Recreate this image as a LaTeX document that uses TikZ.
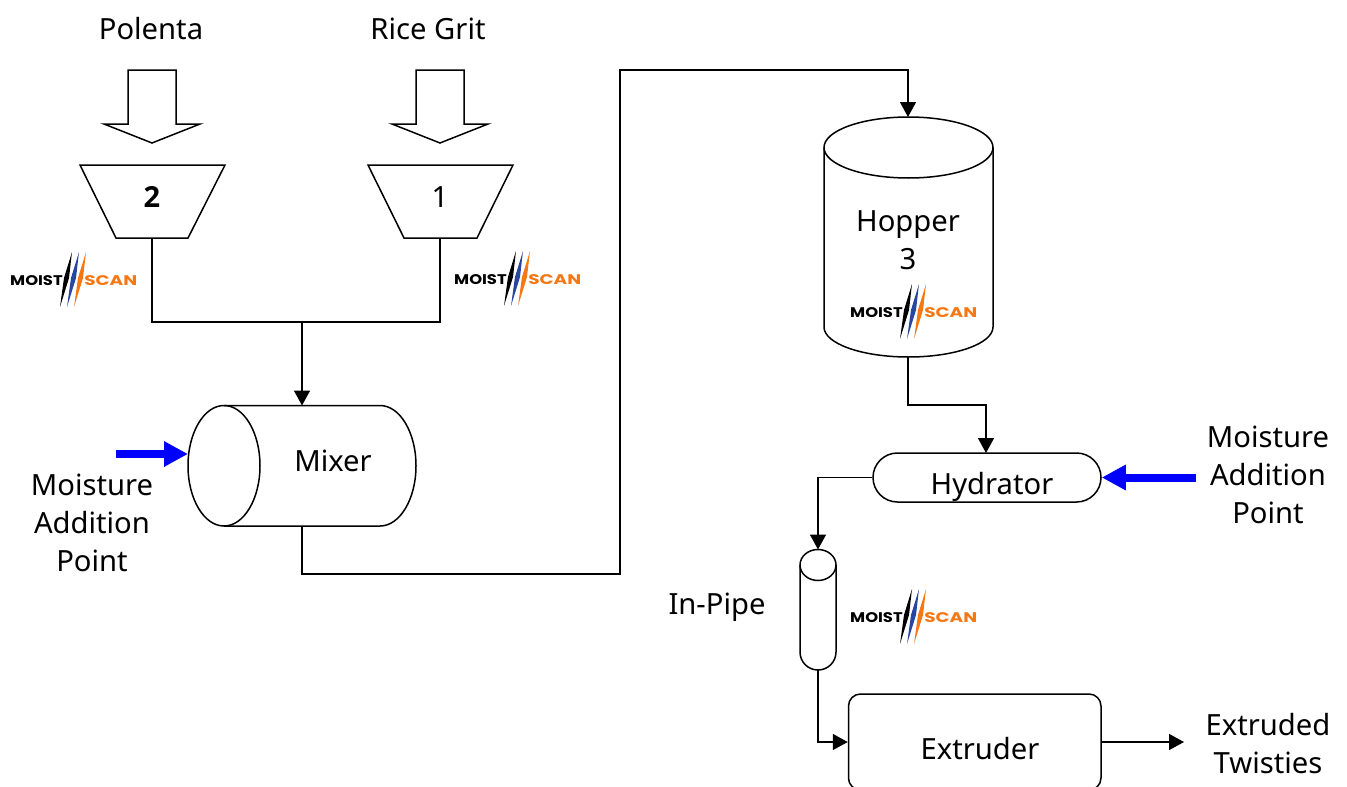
\documentclass[tikz,border=0pt]{standalone}
\usepackage{fontspec}
\setmainfont{Noto Sans}
\newfontfamily\logofont{Poppins}
\newfontfamily\boldnum{Open Sans}
\usetikzlibrary{arrows.meta}
\definecolor{logoblue}{RGB}{40,70,160}
\definecolor{logoorange}{RGB}{245,120,20}
\tikzset{
  line/.style={draw=black,line width=1.5pt},
  flow/.style={line,-{Triangle[length=15pt,width=16pt]}},
  equip/.style={line,fill=white,inner sep=0pt},
  txt/.style={font=\fontsize{29.2}{38}\selectfont,align=center,inner sep=0pt,text=black},
  moisture/.style={draw=blue,line width=8pt,-{Triangle[length=24pt,width=24pt,color=blue]}},
  logotext/.style={font=\logofont\bfseries\fontsize{14}{14}\selectfont,anchor=base west,inner sep=0pt},
}
\newcommand{\mslogo}[3]{%
  \begin{scope}[shift={(#2,#3)}]
    \fill[black] (72,252) -- (64,278) -- (60,307) -- (69,278) -- cycle;
    \fill[logoblue] (79,252) -- (71,278) -- (67,307) -- (76,278) -- cycle;
    \fill[logoorange] (86,252) -- (78,278) -- (74,307) -- (83,278) -- cycle;
    \node[logotext,text=black,xscale=1.17] (#1m) at (10,285) {MOIST};
    \node[logotext,text=logoorange,xscale=1.32] (#1s) at (84,285) {SCAN};
  \end{scope}}
\begin{document}
\begin{tikzpicture}[x=1pt,y=-1pt]
\useasboundingbox (0,0) rectangle (1347,787);
\clip (0,0) rectangle (1347,787);

% feed arrows
\draw[line] (128,70) -- (176,70) -- (176,124) -- (200,124) -- (152,143) -- (104,124) -- (128,124) -- cycle;
\draw[line] (416,70) -- (464,70) -- (464,124) -- (488,124) -- (440,143) -- (392,124) -- (416,124) -- cycle;
\node[txt] (polenta) at (151,29) {Polenta};
\node[txt] (rice) at (428,29) {Rice Grit};

% bins
\draw[line] (80,165) -- (225,165) -- (188,238) -- (116,238) -- cycle;
\draw[line] (368,165) -- (513,165) -- (477,238) -- (404,238) -- cycle;
\node[txt,font=\boldnum\bfseries\fontsize{29}{38}\selectfont] (two) at (152,197) {2};
\node[txt] (one) at (440,197) {1};
\coordinate (binTwoOut) at (152,238);
\coordinate (binOneOut) at (440,238);
\coordinate (merge) at (302,322);

% mixer
\draw[line] (224,405.5) -- (380,405.5) arc[start angle=-90,end angle=90,x radius=36,y radius=60.25] -- (224,526) ;
\draw[line] (224,465.75) ellipse[x radius=36,y radius=60.25];
\node[txt] (mixer) at (333,461) {Mixer};
\coordinate (mixerTop) at (302,405.5);
\coordinate (mixerOut) at (302,526);
\coordinate (mixerIn) at (188,454);
\coordinate (waterA) at (116,454);
\node[txt] (moistA) at (92,523) {Moisture\\Addition\\Point};

% hopper
\draw[line] (824,147.5) -- (824,327) arc[start angle=180,end angle=0,x radius=84.5,y radius=30] -- (993,147.5);
\draw[line] (908.5,147.5) ellipse[x radius=84.5,y radius=30.5];
\node[txt] (hopper) at (908,240) {Hopper\\3};
\coordinate (hopperTop) at (908,117);
\coordinate (hopperOut) at (908,357);

% hydrator
\node[equip,minimum width=228pt,minimum height=49pt,rounded corners=24.5pt] (hyd) at (987,477.5) {};
\node[txt] (hydt) at (992,487) {Hydrator};
\coordinate (hydTop) at (986,453);
\coordinate (waterB) at (1196,477.5);
\node[txt] (moistB) at (1268,475) {Moisture\\Addition\\Point};

% pipe
\draw[line] (800,565) -- (800,652) arc[start angle=180,end angle=0,x radius=18,y radius=18] -- (836,565);
\draw[line] (818,565) ellipse[x radius=18,y radius=15.5];
\node[txt] (inpipe) at (717,607) {In-Pipe};
\coordinate (pipeTop) at (818,549.5);
\coordinate (pipeOut) at (818,670);

% extruder
\node[equip,minimum width=252.5pt,minimum height=96pt,rounded corners=12pt] (ext) at (974.75,742) {};
\node[txt] (extt) at (980,749) {Extruder};
\coordinate (prodEnd) at (1184,742);
\node[txt] (prod) at (1268,744) {Extruded\\Twisties};

% connectors
\draw[line] (binTwoOut) |- (merge) -| (binOneOut);
\draw[flow] (merge) -- (mixerTop);
\draw[flow] (mixerOut) -- (302,574) -- (620,574) -- (620,70) -- (908,70) -- (hopperTop);
\draw[flow] (hopperOut) -- (908,405) -- (986,405) -- (hydTop);
\draw[flow] (hyd.west) -- (818,477.5) -- (pipeTop);
\draw[flow] (pipeOut) |- (ext.west);
\draw[flow] (ext.east) -- (prodEnd);
\draw[moisture] (waterA) -- (mixerIn);
\draw[moisture] (waterB) -- (hyd.east);

% logos
\mslogo{la}{0}{0}
\mslogo{lb}{444}{-1}
\mslogo{lc}{840}{32}
\mslogo{ld}{840}{337}
\end{tikzpicture}
\end{document}
